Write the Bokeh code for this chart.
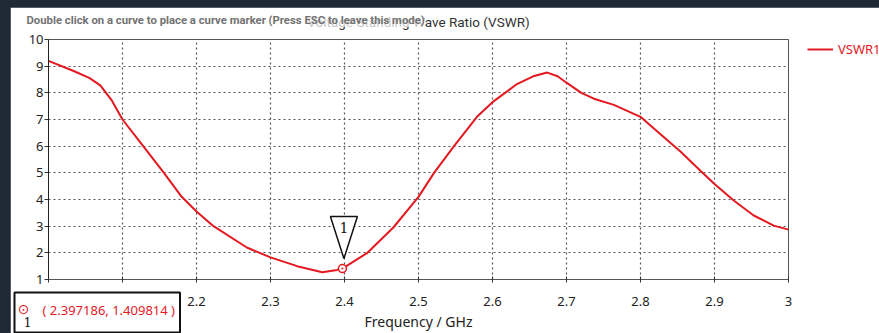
from bokeh.plotting import figure
from bokeh.models import Range1d, FixedTicker, Label, Legend, ColumnDataSource
from bokeh.embed import file_html
from bokeh.resources import INLINE

# ---- data ----
freq_ghz = [2.000, 2.034, 2.055, 2.070, 2.085, 2.100, 2.128, 2.156, 2.180, 2.200,
            2.223, 2.268, 2.300, 2.336, 2.370, 2.390, 2.397, 2.431, 2.466, 2.500,
            2.521, 2.548, 2.579, 2.600, 2.633, 2.655, 2.674, 2.688, 2.700, 2.720,
            2.737, 2.764, 2.800, 2.827, 2.854, 2.881, 2.900, 2.926, 2.953, 2.980,
            3.000]
vswr = [9.20, 8.82, 8.56, 8.28, 7.74, 7.00, 6.00, 5.00, 4.10, 3.55,
        3.00, 2.20, 1.83, 1.50, 1.27, 1.36, 1.41, 2.00, 2.95, 4.10,
        5.00, 6.00, 7.10, 7.65, 8.33, 8.62, 8.76, 8.62, 8.38, 8.00,
        7.78, 7.55, 7.10, 6.45, 5.80, 5.08, 4.58, 3.96, 3.40, 3.02,
        2.87]
marker_x = [2.397186]
marker_y = [1.409814]
marker_text = "( 2.397186, 1.409814 )"
x_ticks = [2.0, 2.1, 2.2, 2.3, 2.4, 2.5, 2.6, 2.7, 2.8, 2.9, 3.0]
x_tick_labels = ["2", "2.1", "2.2", "2.3", "2.4", "2.5", "2.6", "2.7", "2.8", "2.9", "3"]
y_ticks = [1, 2, 3, 4, 5, 6, 7, 8, 9, 10]
title_text = "Voltage Standing Wave Ratio (VSWR)"
notice_text = "Double click on a curve to place a curve marker (Press ESC to leave this mode)"
x_label = "Frequency / GHz"
series_name = "VSWR1"

RED = "#e3191f"
FONT = "Noto Sans"
FW, FH = 740, 240          # frame size in px
LEFT, TOP = 38, 32         # borders in px

p = figure(frame_width=FW, frame_height=FH, output_backend="svg", toolbar_location=None,
           x_range=Range1d(x_ticks[0], x_ticks[-1]), y_range=Range1d(y_ticks[0], y_ticks[-1]),
           min_border_left=LEFT, min_border_right=91, min_border_top=TOP, min_border_bottom=0,
           background_fill_color="white", border_fill_color="white")
p.outline_line_color = "#555555"

# axes
p.xaxis.ticker = FixedTicker(ticks=x_ticks)
p.xaxis.major_label_overrides = {t: l for t, l in zip(x_ticks, x_tick_labels)}
p.yaxis.ticker = FixedTicker(ticks=y_ticks)
p.xaxis.minor_tick_line_color = None
p.yaxis.minor_tick_line_color = None
p.xaxis.axis_line_color = "#555555"
p.yaxis.axis_line_color = "#222222"
p.xaxis.major_tick_in = 3
p.xaxis.major_tick_out = 3
p.yaxis.major_tick_in = 0
p.yaxis.major_tick_out = 4
p.xaxis.major_tick_line_color = "#333333"
p.yaxis.major_tick_line_color = "#333333"
for ax in (p.xaxis, p.yaxis):
    ax.major_label_text_font = FONT
    ax.major_label_text_font_size = "13px"
    ax.major_label_text_color = "#222222"
p.xaxis.major_label_standoff = 14
p.yaxis.major_label_standoff = 1
p.xaxis.axis_label = x_label
p.xaxis.axis_label_text_font = FONT
p.xaxis.axis_label_text_font_style = "normal"
p.xaxis.axis_label_text_font_size = "14px"
p.xaxis.axis_label_text_color = "#222222"
p.xaxis.axis_label_standoff = 3

# grid
p.grid.grid_line_color = "#555555"
p.grid.grid_line_dash = "2 3"
p.grid.grid_line_width = 1.2
p.xgrid.ticker = FixedTicker(ticks=x_ticks)
p.ygrid.ticker = FixedTicker(ticks=y_ticks)

# curve
src = ColumnDataSource(dict(x=freq_ghz, y=vswr))
curve = p.line("x", "y", source=src, line_color=RED, line_width=2)

# curve marker
p.scatter(marker_x, marker_y, marker="circle_dot", size=8, line_color=RED,
          fill_color="white", line_width=1.5)

# triangle flag above the marker (pixel offsets converted to data units)
dx = (x_ticks[-1] - x_ticks[0]) / FW
dy = (y_ticks[-1] - y_ticks[0]) / FH
mx, my = marker_x[0], marker_y[0]
tri_x = [mx + 1.5 * dx - 13.5 * dx, mx + 1.5 * dx + 13.5 * dx, mx + 1.5 * dx]
tri_y = [my + 52 * dy, my + 52 * dy, my + 10 * dy]
p.patch(tri_x, tri_y, fill_color="white", line_color="#111111", line_width=1.5)
p.add_layout(Label(x=mx + 1.5 * dx, y=my + 41 * dy, text="1", text_align="center",
                   text_baseline="middle", text_font="DejaVu Serif", text_font_size="14px",
                   text_color="#111111"))

# legend in the right panel
legend = Legend(items=[(series_name, [curve])], location=(19, FH - 19), padding=0, margin=0,
                glyph_width=26, glyph_height=16, label_height=16, label_standoff=5,
                border_line_color=None, background_fill_alpha=0,
                label_text_color=RED, label_text_font=FONT, label_text_font_size="13px")
p.add_layout(legend, "right")

# texts outside the frame: canvas units, hosted in a side panel so they are not clipped
def canvas_label(**kw):
    p.add_layout(Label(x_units="canvas", y_units="canvas", **kw), "below")

canvas_label(x=LEFT + FW / 2, y=14, text=title_text, text_align="center",
             text_baseline="middle", text_font="Roboto", text_font_size="13.5px",
             text_color="#333333")
canvas_label(x=16, y=13, text=notice_text, text_align="left", text_baseline="middle",
             text_font="Roboto", text_font_size="11.3px", text_font_style="bold",
             text_color="#727272", background_fill_color="white", background_fill_alpha=0.72)
canvas_label(x=4, y=305, text=marker_text, text_align="left", text_baseline="middle",
             text_font=FONT, text_font_size="13px", text_color=RED,
             background_fill_color="white", border_line_color="#111111", border_line_width=2,
             padding=dict(left=28, right=5, top=8, bottom=14))
canvas_label(x=13, y=301, text="\u2299", text_align="center", text_baseline="middle",
             text_font="DejaVu Sans", text_font_size="14px", text_color=RED)
canvas_label(x=17, y=314, text="1", text_align="center", text_baseline="middle",
             text_font="DejaVu Serif", text_font_size="12px", text_color="#111111")

html = file_html(p, INLINE)
css = ("<style>html,body{background:#1e2935 !important;overflow:hidden !important;}"
       "body{padding:7px 0 0 10px !important;}</style>")
html = html.replace("<head>", "<head>" + css, 1)
html = html.replace("</head>", css + "</head>", 1)
open("out.html", "w").write(html)
